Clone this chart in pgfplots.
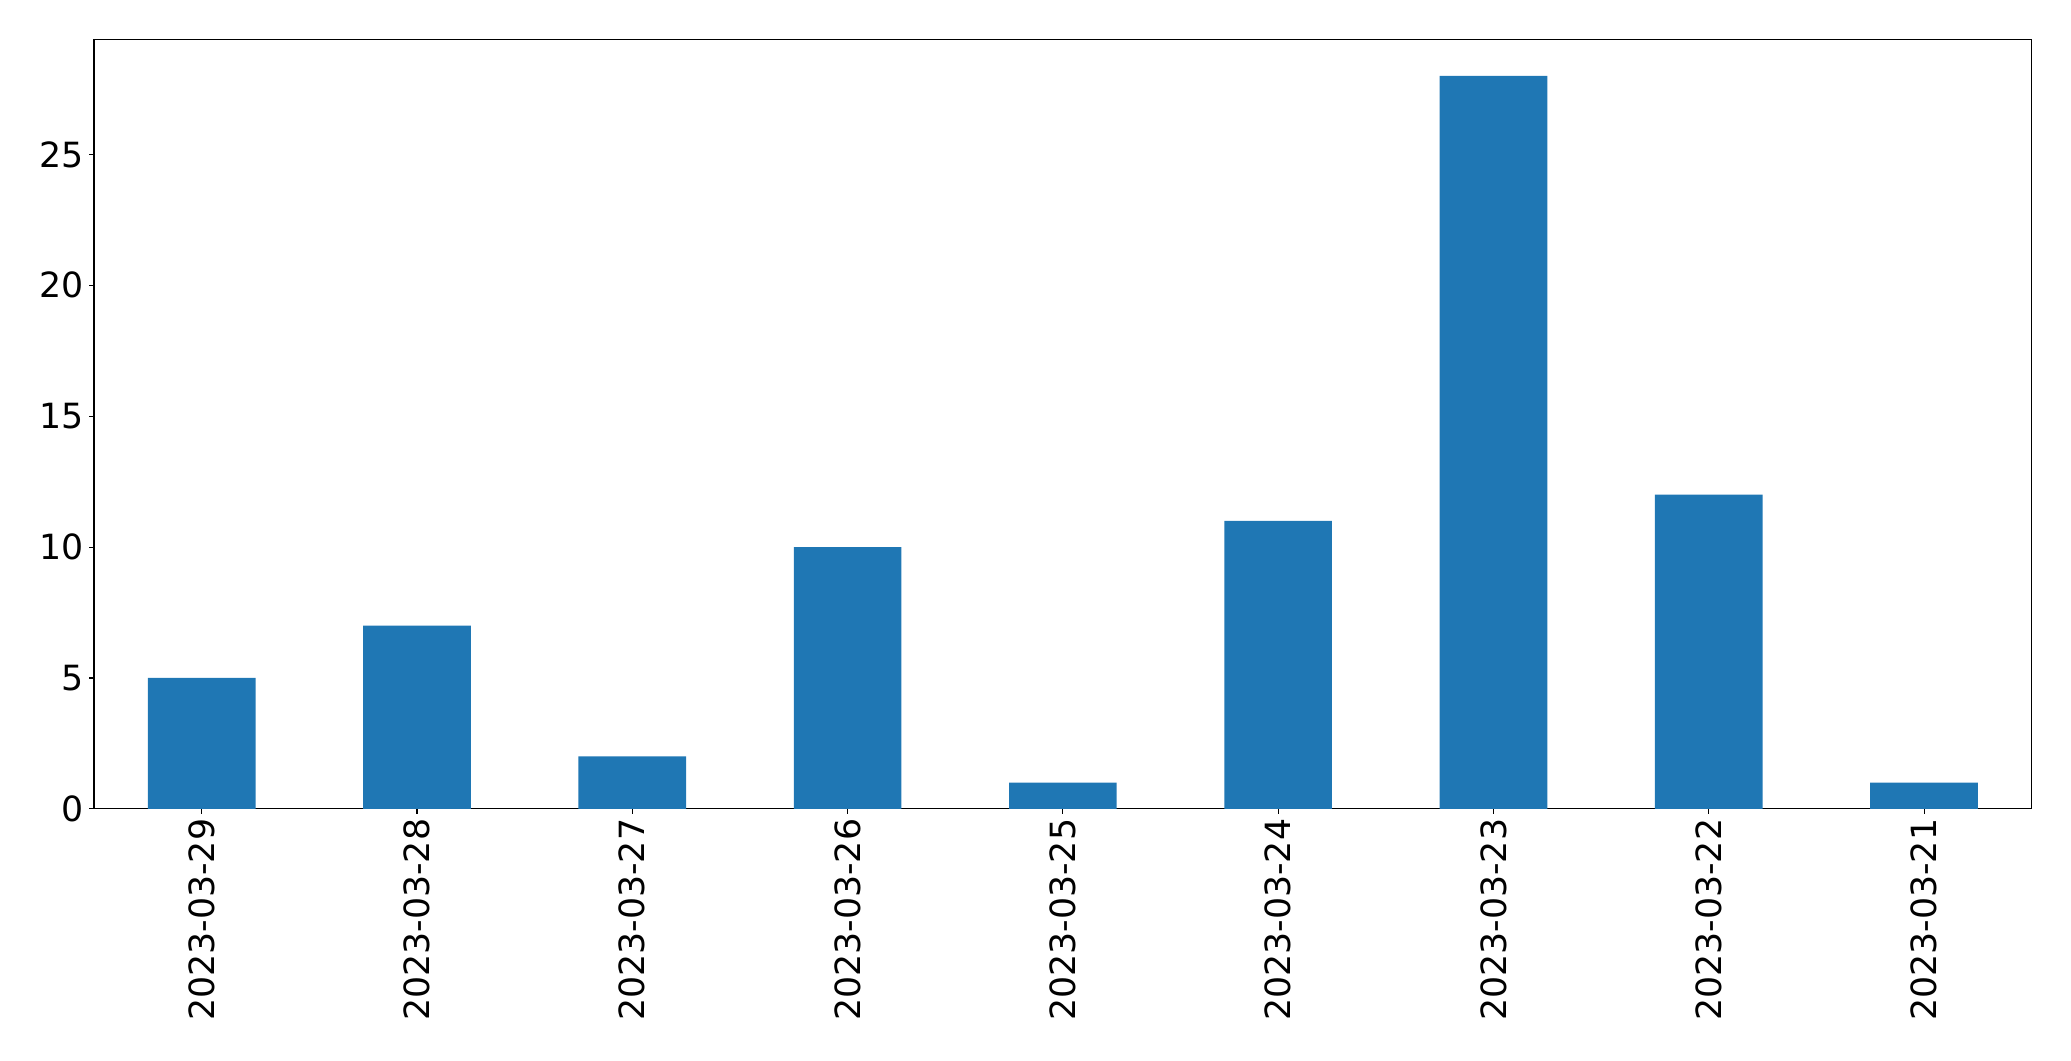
\documentclass[border=0pt]{standalone}
\usepackage{fontspec}
\setmainfont{DejaVu Sans}
\usepackage{pgfplots}
\pgfplotsset{compat=1.18}
\definecolor{mplblue}{HTML}{1F77B4}
\begin{document}
\begin{tikzpicture}
\begin{axis}[
  scale only axis,
  width=1395pt, height=554pt,
  xmin=-0.5, xmax=8.5, ymin=0, ymax=29.4,
  xtick={0,...,8},
  xticklabels={2023-03-29,2023-03-28,2023-03-27,2023-03-26,2023-03-25,2023-03-24,2023-03-23,2023-03-22,2023-03-21},
  ytick={0,5,10,15,20,25},
  tick pos=left,
  tick align=outside,
  major tick length=3.5pt,
  every tick/.style={black, line width=0.8pt},
  axis line style={line width=0.8pt},
  /pgf/number format/assume math mode=true,
  tick label style={font=\fontsize{25}{30}\selectfont},
  xticklabel style={rotate=90, anchor=east, inner sep=0pt, xshift=-3.5pt},
  yticklabel style={inner sep=0pt, xshift=-3.5pt},
  ybar, bar width=0.5, bar shift=0pt,
]
\addplot[fill=mplblue, draw=none] coordinates {
(0,5) (1,7) (2,2) (3,10) (4,1) (5,11) (6,28) (7,12) (8,1)
};
\end{axis}
\pgfresetboundingbox
\path (current axis.south west)+(-67.7pt,-181.4pt) coordinate (bl);
\path (current axis.north east)+(28.3pt,28.3pt) coordinate (tr);
\path[use as bounding box] (bl) rectangle (tr);
\end{tikzpicture}
\end{document}
